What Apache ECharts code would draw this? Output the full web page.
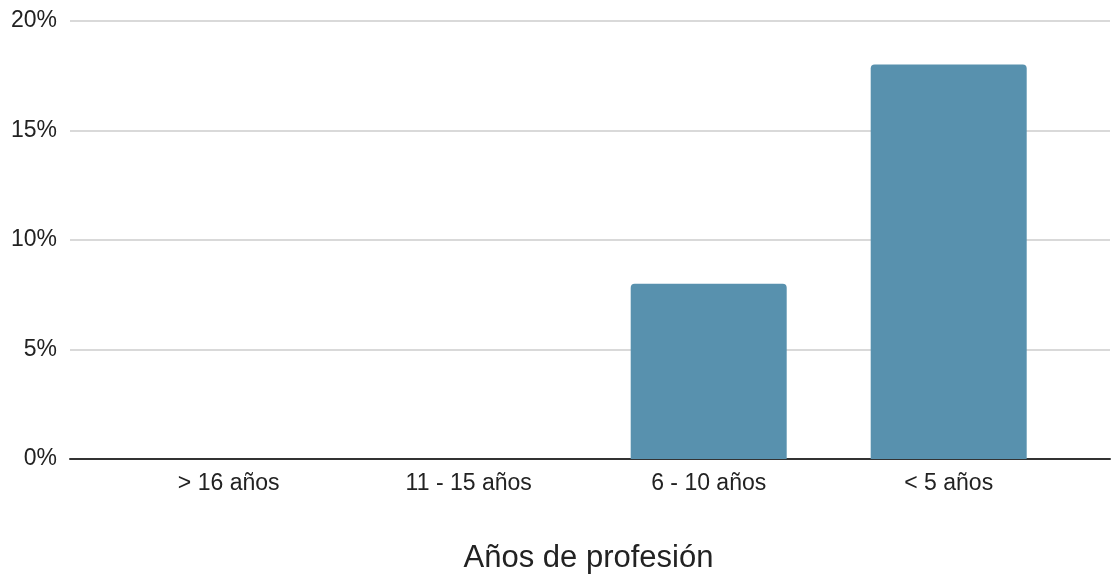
<!DOCTYPE html>
<html>
<head>
<meta charset="utf-8">
<script src="https://cdn.jsdelivr.net/npm/echarts@6/dist/echarts.min.js"></script>
<style>
  html, body { margin: 0; padding: 0; background: #ffffff; }
  #chart { width: 1112px; height: 581px; }
</style>
</head>
<body>
<div id="chart"></div>
<script>
// Share of respondents by years in the profession (percent)
const categories = ['> 16 años', '11 - 15 años', '6 - 10 años', '< 5 años'];
const values = [0, 0, 8, 18];
const yTicks = [0, 5, 10, 15, 20];
const axisTitle = 'Años de profesión';

const FONT = 'Liberation Sans, Arial, sans-serif';
const chart = echarts.init(document.getElementById('chart'), null, { renderer: 'canvas' });

chart.setOption({
  animation: false,
  grid: [
    // full-width frame: gridlines, y labels and baseline
    { left: 70, right: 2, top: 20.7, bottom: 122, containLabel: false },
    // inner frame holding the category bars
    { left: 108.7, right: 43.3, top: 20.7, bottom: 122, containLabel: false }
  ],
  xAxis: [
    {
      gridIndex: 0, type: 'value', min: 0, max: 1,
      axisLine: { show: true, onZero: false, lineStyle: { color: '#333333', width: 2 } },
      axisTick: { show: false }, axisLabel: { show: false }, splitLine: { show: false }
    },
    {
      gridIndex: 1, type: 'category', data: categories,
      axisLine: { show: false }, axisTick: { show: false },
      axisLabel: { color: '#222222', fontFamily: FONT, fontSize: 23, margin: 13 }
    }
  ],
  yAxis: [
    {
      gridIndex: 0, type: 'value', min: yTicks[0], max: yTicks[yTicks.length - 1], interval: 5,
      axisLine: { show: false }, axisTick: { show: false },
      axisLabel: { color: '#222222', fontFamily: FONT, fontSize: 23, margin: 13, formatter: v => v + '%' },
      splitLine: { show: true, lineStyle: { color: '#cccccc', width: 1.5 } }
    },
    {
      gridIndex: 1, type: 'value', min: yTicks[0], max: yTicks[yTicks.length - 1], interval: 5,
      show: false, splitLine: { show: false }
    }
  ],
  graphic: [
    {
      type: 'text', x: 588.5, y: 543,
      style: { text: axisTitle, fill: '#222222', font: '31px ' + FONT, align: 'center', verticalAlign: 'top' }
    }
  ],
  series: [
    {
      type: 'bar', xAxisIndex: 1, yAxisIndex: 1,
      data: values, barWidth: 156, z: 3,
      itemStyle: { color: '#5891ae', borderRadius: [4, 4, 0, 0] }
    }
  ]
});
</script>
</body>
</html>
